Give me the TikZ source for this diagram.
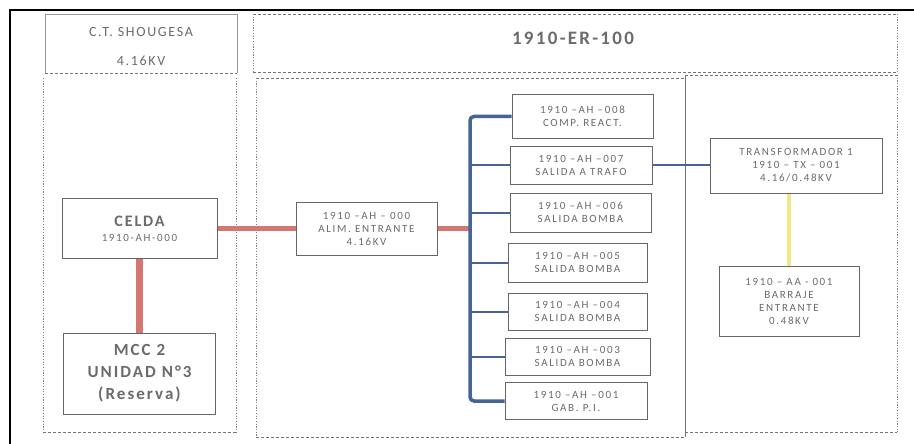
\documentclass[tikz,border=0pt]{standalone}
\usepackage{fontspec}
\setmainfont{Carlito}
\newfontfamily\spacedfont[LetterSpace=15]{Carlito}
\newfontfamily\widefont[LetterSpace=12]{Carlito}
\begin{document}
\begin{tikzpicture}[x=1pt,y=-1pt,
  txt/.style={text=black!58},
  box/.style={draw=black!60,line width=1pt,fill=white,align=center,inner sep=1pt,font=\spacedfont\fontsize{11}{13}\selectfont,text=black!58},
  dsh/.style={draw=black!55,line width=0.8pt,dash pattern=on 3pt off 2pt},
  dtt/.style={draw=black!50,line width=0.8pt,dash pattern=on 1.2pt off 1.5pt},
  redline/.style={draw={rgb,255:red,214;green,118;blue,112},line width=5pt},
  busline/.style={draw={rgb,255:red,70;green,100;blue,150},line width=3.5pt,rounded corners=4pt},
  branch/.style={draw={rgb,255:red,70;green,100;blue,150},line width=2pt},
  yelline/.style={draw={rgb,255:red,240;green,232;blue,130},line width=4pt}
]
\useasboundingbox (0,0) rectangle (914,444);
\fill[white] (0,0) rectangle (914,444);
% outer black frame
\draw[line width=1.5pt,black] (10,444) -- (10,10) -- (914,10);

% left column
\draw[black!40,line width=0.8pt] (45,73) -- (45,14) -- (237,14) -- (237,73);
\draw[dsh] (45,73) -- (237,73);
\node[txt,font=\widefont\fontsize{14}{16}\selectfont] (ct) at (141,32) {C.T. SHOUGESA};
\node[txt,font=\widefont\fontsize{14}{16}\selectfont] (kv) at (141,61) {4.16KV};
\draw[dtt] (43,78) -- (43,432);
\draw[dtt] (236,78) -- (236,432);
\draw[dsh] (43,432) -- (236,432);

% middle header
\draw[dsh] (253,14) -- (897,14);
\draw[dsh] (253,72) -- (897,72);
\draw[dtt] (253,14) -- (253,72);
\draw[dtt] (897,14) -- (897,72);
\node[txt,font=\widefont\fontsize{19}{21}\selectfont\bfseries] (er) at (573,38) {1910-ER-100};

% middle region
\draw[dsh] (256,78) -- (685,78);
\draw[dtt] (256,78) -- (256,437);
\draw[dsh] (256,437) -- (685,437);
\draw[black!55,line width=1pt] (685,75) -- (685,437);

% right region
\draw[dsh] (685,75) -- (897,75);
\draw[dtt] (897,75) -- (897,432);
\draw[dsh] (685,432) -- (897,432);

% nodes
\node[box,minimum width=155pt,minimum height=60pt] (celda) at (139.5,228.5)
  {{\widefont\fontsize{16}{18}\selectfont\bfseries CELDA}\\[2pt]1910-AH-000};
\node[box,minimum width=152pt,minimum height=81pt,font=\widefont\fontsize{17}{22}\selectfont\bfseries] (mcc) at (139.5,373.5)
  {MCC 2\\UNIDAD N°3\\(Reserva)};
\node[box,minimum width=141pt,minimum height=53pt] (ah000) at (366.5,228.5)
  {1910 –AH – 000\\ALIM. ENTRANTE\\4.16KV};
\node[box,minimum width=141pt,minimum height=43pt] (ah008) at (582.5,116.5) {1910 –AH –008\\COMP. REACT.};
\node[box,minimum width=142pt,minimum height=38pt] (ah007) at (581,165) {1910 –AH –007\\SALIDA A TRAFO};
\node[box,minimum width=141pt,minimum height=39pt] (ah006) at (580.5,212.5) {1910 –AH –006\\SALIDA BOMBA};
\node[box,minimum width=139pt,minimum height=39pt] (ah005) at (577.5,262.5) {1910 –AH –005\\SALIDA BOMBA};
\node[box,minimum width=139pt,minimum height=37pt] (ah004) at (577.5,311.5) {1910 –AH –004\\SALIDA BOMBA};
\node[box,minimum width=145pt,minimum height=37pt] (ah003) at (577.5,356.5) {1910 –AH –003\\SALIDA BOMBA};
\node[box,minimum width=142pt,minimum height=37pt] (ah001) at (576,401) {1910 –AH –001\\GAB. P.I.};
\node[box,minimum width=172pt,minimum height=55pt] (tx) at (796,165.5) {TRANSFORMADOR 1\\1910 – TX – 001\\4.16/0.48KV};
\node[box,minimum width=140pt,minimum height=70pt] (aa) at (789,301) {1910 – AA - 001\\BARRAJE\\ENTRANTE\\0.48KV};

\coordinate (busx) at (470,0);

% connectors
\draw[redline] (celda.east) -- (ah000.west);
\draw[redline,line width=7pt] (celda.south) -- (mcc.north);
\draw[redline] (ah000.east) -- (busx |- ah000.east);
\draw[busline] (ah008.west) -- (busx |- ah008.west) -- (busx |- ah001.west) -- (ah001.west);
\foreach \n in {ah007,ah006,ah005,ah004,ah003} {
  \draw[branch] (busx |- \n.west) -- (\n.west);
}
\draw[branch] (ah007.east) -- (tx.west |- ah007.east);
\draw[yelline] (aa.north |- tx.south) -- (aa.north);
\end{tikzpicture}
\end{document}
